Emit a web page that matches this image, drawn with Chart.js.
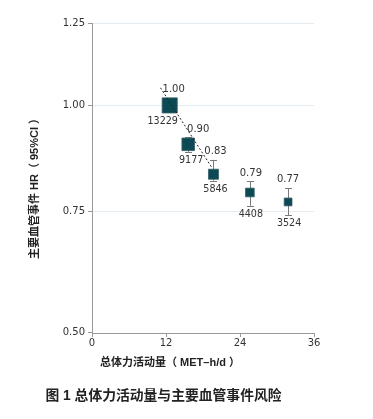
<!DOCTYPE html>
<html>
<head>
<meta charset="utf-8">
<script src="https://cdn.jsdelivr.net/npm/chart.js@4.4.1/dist/chart.umd.min.js"></script>
<style>
html,body{margin:0;padding:0;background:#fff;}
#wrap{position:relative;width:373px;height:419px;}
</style>
</head>
<body>
<div id="wrap"><canvas id="c"></canvas></div>
<script>
// ---- data ----
const activity = [12.6, 15.6, 19.7, 25.6, 31.8];      // MET-h/d (x)
const hr       = [1.00, 0.90, 0.83, 0.79, 0.77];      // hazard ratio
const ciLow    = [1.00, 0.882, 0.816, 0.762, 0.743];
const ciHigh   = [1.00, 0.917, 0.863, 0.814, 0.799];
const hrLabels = ["1.00", "0.90", "0.83", "0.79", "0.77"];
const nCases   = [13229, 9177, 5846, 4408, 3524];
const trendX   = [11.1, 19.35];
const trendY   = [1.049, 0.847];
const xTicks   = [0, 12, 24, 36];
const yMin     = 0.541;
const yTickValues = [yMin, 0.75, 1.00, 1.25];
const yTickLabels = ["0.50", "0.75", "1.00", "1.25"];
const yTitle   = "主要血管事件 HR（ 95%CI ）";
const xTitle   = "总体力活动量（ MET–h/d ）";
const caption  = "图 1 总体力活动量与主要血管事件风险";

// ---- styles ----
const boxColor = '#0b4a55';
const boxRadius = nCases.map(n => (3.9 * Math.sqrt(n / 3524) * 2) / Math.SQRT2);
const hrDx = [4, 10, 2, 1, 0];
const nDx  = [-7, 3, 2, 1, 1];
const titleFont = '"Liberation Sans", "Noto Sans CJK SC"';

const extras = {
  id: 'extras',
  beforeDatasetsDraw(chart) {
    const ctx = chart.ctx, x = chart.scales.x, y = chart.scales.y;
    ctx.save();
    ctx.strokeStyle = '#7a7a7a';
    ctx.lineWidth = 1;
    for (let i = 0; i < hr.length; i++) {
      if (ciLow[i] === ciHigh[i]) continue;
      const px = Math.round(x.getPixelForValue(activity[i])) + 0.5;
      const y1 = y.getPixelForValue(ciHigh[i]);
      const y2 = y.getPixelForValue(ciLow[i]);
      ctx.beginPath();
      ctx.moveTo(px, y1); ctx.lineTo(px, y2);
      ctx.moveTo(px - 3.5, Math.round(y1) + 0.5); ctx.lineTo(px + 3.5, Math.round(y1) + 0.5);
      ctx.moveTo(px - 3.5, Math.round(y2) + 0.5); ctx.lineTo(px + 3.5, Math.round(y2) + 0.5);
      ctx.stroke();
    }
    ctx.restore();
  },
  afterDatasetsDraw(chart) {
    const ctx = chart.ctx, x = chart.scales.x, y = chart.scales.y;
    ctx.save();
    ctx.fillStyle = '#333';
    ctx.textAlign = 'center';
    ctx.textBaseline = 'middle';
    for (let i = 0; i < hr.length; i++) {
      const px = x.getPixelForValue(activity[i]);
      const py = y.getPixelForValue(hr[i]);
      const half = boxRadius[i] * Math.SQRT1_2;
      const top = Math.min(y.getPixelForValue(ciHigh[i]), py - half);
      const bot = Math.max(y.getPixelForValue(ciLow[i]), py + half);
      ctx.font = '10px "DejaVu Sans"';
      ctx.fillText(hrLabels[i], px + hrDx[i], top - 8.5);
      ctx.font = '9.6px "DejaVu Sans"';
      ctx.fillText(String(nCases[i]), px + nDx[i], bot + 8.5);
    }
    // titles
    ctx.fillStyle = '#222';
    ctx.font = 'bold 11px ' + titleFont;
    ctx.fillText(xTitle, 170, 363);
    ctx.save();
    ctx.translate(35, 186);
    ctx.rotate(-Math.PI / 2);
    ctx.fillText(yTitle, 0, 0);
    ctx.restore();
    ctx.font = 'bold 13.8px ' + titleFont;
    ctx.fillText(caption, 163.5, 396);
    ctx.restore();
  }
};

new Chart(document.getElementById('c'), {
  type: 'scatter',
  data: {
    datasets: [
      {
        type: 'line',
        data: trendX.map((v, i) => ({x: v, y: trendY[i]})),
        borderColor: '#222',
        borderWidth: 1,
        borderDash: [2, 2],
        pointRadius: 0,
        fill: false,
        order: 0
      },
      {
        data: activity.map((v, i) => ({x: v, y: hr[i]})),
        pointStyle: 'rect',
        pointRadius: boxRadius,
        pointHoverRadius: boxRadius,
        backgroundColor: boxColor,
        borderColor: '#3c5f66',
        borderWidth: 0.8,
        order: 1
      }
    ]
  },
  options: {
    responsive: true,
    maintainAspectRatio: false,
    animation: false,
    events: [],
    layout: { padding: { left: 0, top: 23, right: 59, bottom: 66 } },
    plugins: { legend: { display: false }, tooltip: { enabled: false } },
    scales: {
      x: {
        type: 'linear',
        min: 0, max: 36,
        afterBuildTicks(s) { s.ticks = xTicks.map(v => ({value: v})); },
        afterFit(s) { s.height = 20; },
        ticks: { color: '#333', font: { family: 'DejaVu Sans', size: 10 }, padding: 0 },
        grid: { drawOnChartArea: false, drawTicks: true, tickLength: 4, color: '#999' },
        border: { color: '#999' }
      },
      y: {
        type: 'logarithmic',
        min: yMin, max: 1.25,
        afterBuildTicks(s) { s.ticks = yTickValues.map(v => ({value: v})); },
        afterFit(s) { s.width = 92; },
        ticks: {
          color: '#333',
          font: { family: 'DejaVu Sans', size: 10 },
          padding: 3,
          autoSkip: false,
          callback: (v, i) => yTickLabels[i]
        },
        grid: {
          color: ctx => (ctx.index === 0 ? 'rgba(0,0,0,0)' : '#e4ecf1'),
          tickColor: '#999',
          tickLength: 4
        },
        border: { color: '#999' }
      }
    }
  },
  plugins: [extras]
});
</script>
</body>
</html>
